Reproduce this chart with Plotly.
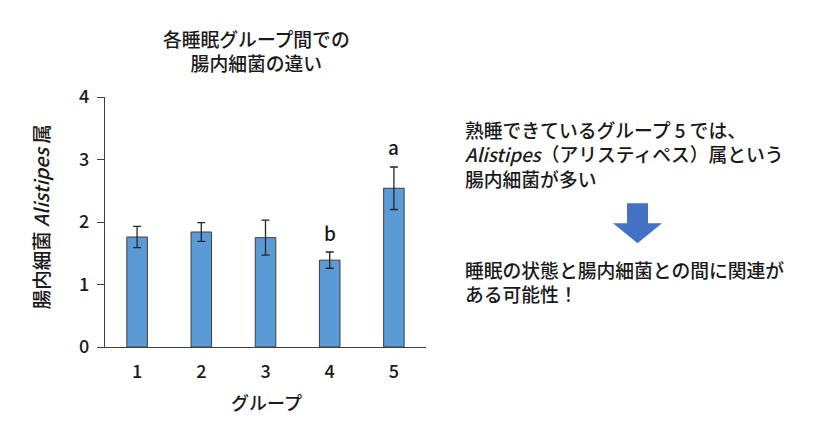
import plotly.graph_objects as go

groups = [1, 2, 3, 4, 5]
group_labels = ["1", "2", "3", "4", "5"]
means = [1.76, 1.84, 1.75, 1.39, 2.54]
errors = [0.17, 0.15, 0.28, 0.13, 0.34]
sig_labels = ["", "", "", "b", "a"]
sig_pos = [None, None, None, 1.84, 3.21]

title_lines = ["各睡眠グループ間での", "腸内細菌の違い"]
y_title = "腸内細菌 <i>Alistipes</i> 属"
x_title = "グループ"
note_lines_top = ["熟睡できているグループ 5 では、",
                  "<i>Alistipes</i>（アリスティペス）属という",
                  "腸内細菌が多い"]
note_lines_bottom = ["睡眠の状態と腸内細菌との間に関連が",
                     "ある可能性！"]

FONT = "Noto Sans CJK JP"
TXT = "#1a1a1a"
WT = 500
W, H = 833, 430
OFF = 8  # page body margin
# plot area in screen pixels
SL, SR, ST, SB = 105, 426, 96.7, 347.0
L, R, T, B = SL - OFF, SR - OFF, ST - OFF, SB - OFF


def px(x):
    return (x - SL) / (SR - SL)


def py(y):
    return (SB - y) / (SB - ST)


def f(size):
    return dict(size=size, color=TXT, family=FONT, weight=WT)


fig = go.Figure()
fig.add_trace(go.Bar(
    x=groups, y=means, width=0.32,
    marker=dict(color="#5B9BD5", line=dict(color="#3F3F3F", width=1)),
    error_y=dict(type="data", array=errors, visible=True,
                 color="#262626", thickness=1.3, width=4),
    showlegend=False, hoverinfo="skip",
))

annotations = []
for g, lab, pos in zip(groups, sig_labels, sig_pos):
    if lab:
        annotations.append(dict(x=g, y=pos, xref="x", yref="y", text=lab,
                                showarrow=False, font=f(19)))

annotations.append(dict(x=px(256), y=py(50), xref="paper", yref="paper",
                        text="<br>".join(title_lines), showarrow=False,
                        xanchor="center", yanchor="middle", align="center",
                        font=f(18.8)))

annotations.append(dict(x=px(40), y=py(217), xref="paper", yref="paper", text=y_title,
                        textangle=-90, showarrow=False, xanchor="center", yanchor="middle",
                        font=f(19.5)))
annotations.append(dict(x=px(266), y=py(402), xref="paper", yref="paper", text=x_title,
                        showarrow=False, xanchor="center", yanchor="middle",
                        font=f(18)))

annotations.append(dict(x=px(463), y=py(153.7), xref="paper", yref="paper",
                        text="<br>".join(note_lines_top), showarrow=False,
                        xanchor="left", yanchor="middle", align="left",
                        font=f(18.8)))
annotations.append(dict(x=px(463), y=py(281.7), xref="paper", yref="paper",
                        text="<br>".join(note_lines_bottom), showarrow=False,
                        xanchor="left", yanchor="middle", align="left",
                        font=f(18.8)))

# down arrow decoration (screen pixel outline)
pts = [(627, 203), (648, 203), (648, 223), (662, 223), (637.5, 243), (613, 223), (627, 223)]
path = "M " + " L ".join(f"{px(x):.5f},{py(y):.5f}" for x, y in pts) + " Z"
shapes = [dict(type="path", xref="paper", yref="paper", path=path,
               fillcolor="#4472C4", line=dict(width=0))]

fig.update_layout(
    width=W, height=H,
    margin=dict(l=L, r=W - R, t=T, b=H - B),
    paper_bgcolor="white", plot_bgcolor="white",
    font=dict(family=FONT, color=TXT),
    annotations=annotations, shapes=shapes,
    xaxis=dict(range=[0.5, 5.5], showline=True, linecolor="#404040", linewidth=1.2,
               ticks="", showgrid=False, zeroline=False,
               tickmode="array", tickvals=groups, ticktext=group_labels,
               tickfont=f(18), ticklabelstandoff=8, fixedrange=True),
    yaxis=dict(range=[0, 4], showline=True, linecolor="#404040", linewidth=1.2,
               ticks="outside", ticklen=7, tickcolor="#404040", tickwidth=1.2,
               dtick=1, showgrid=False, zeroline=False,
               tickfont=f(18), ticklabelstandoff=4, fixedrange=True),
)

fig.write_html("out.html")
